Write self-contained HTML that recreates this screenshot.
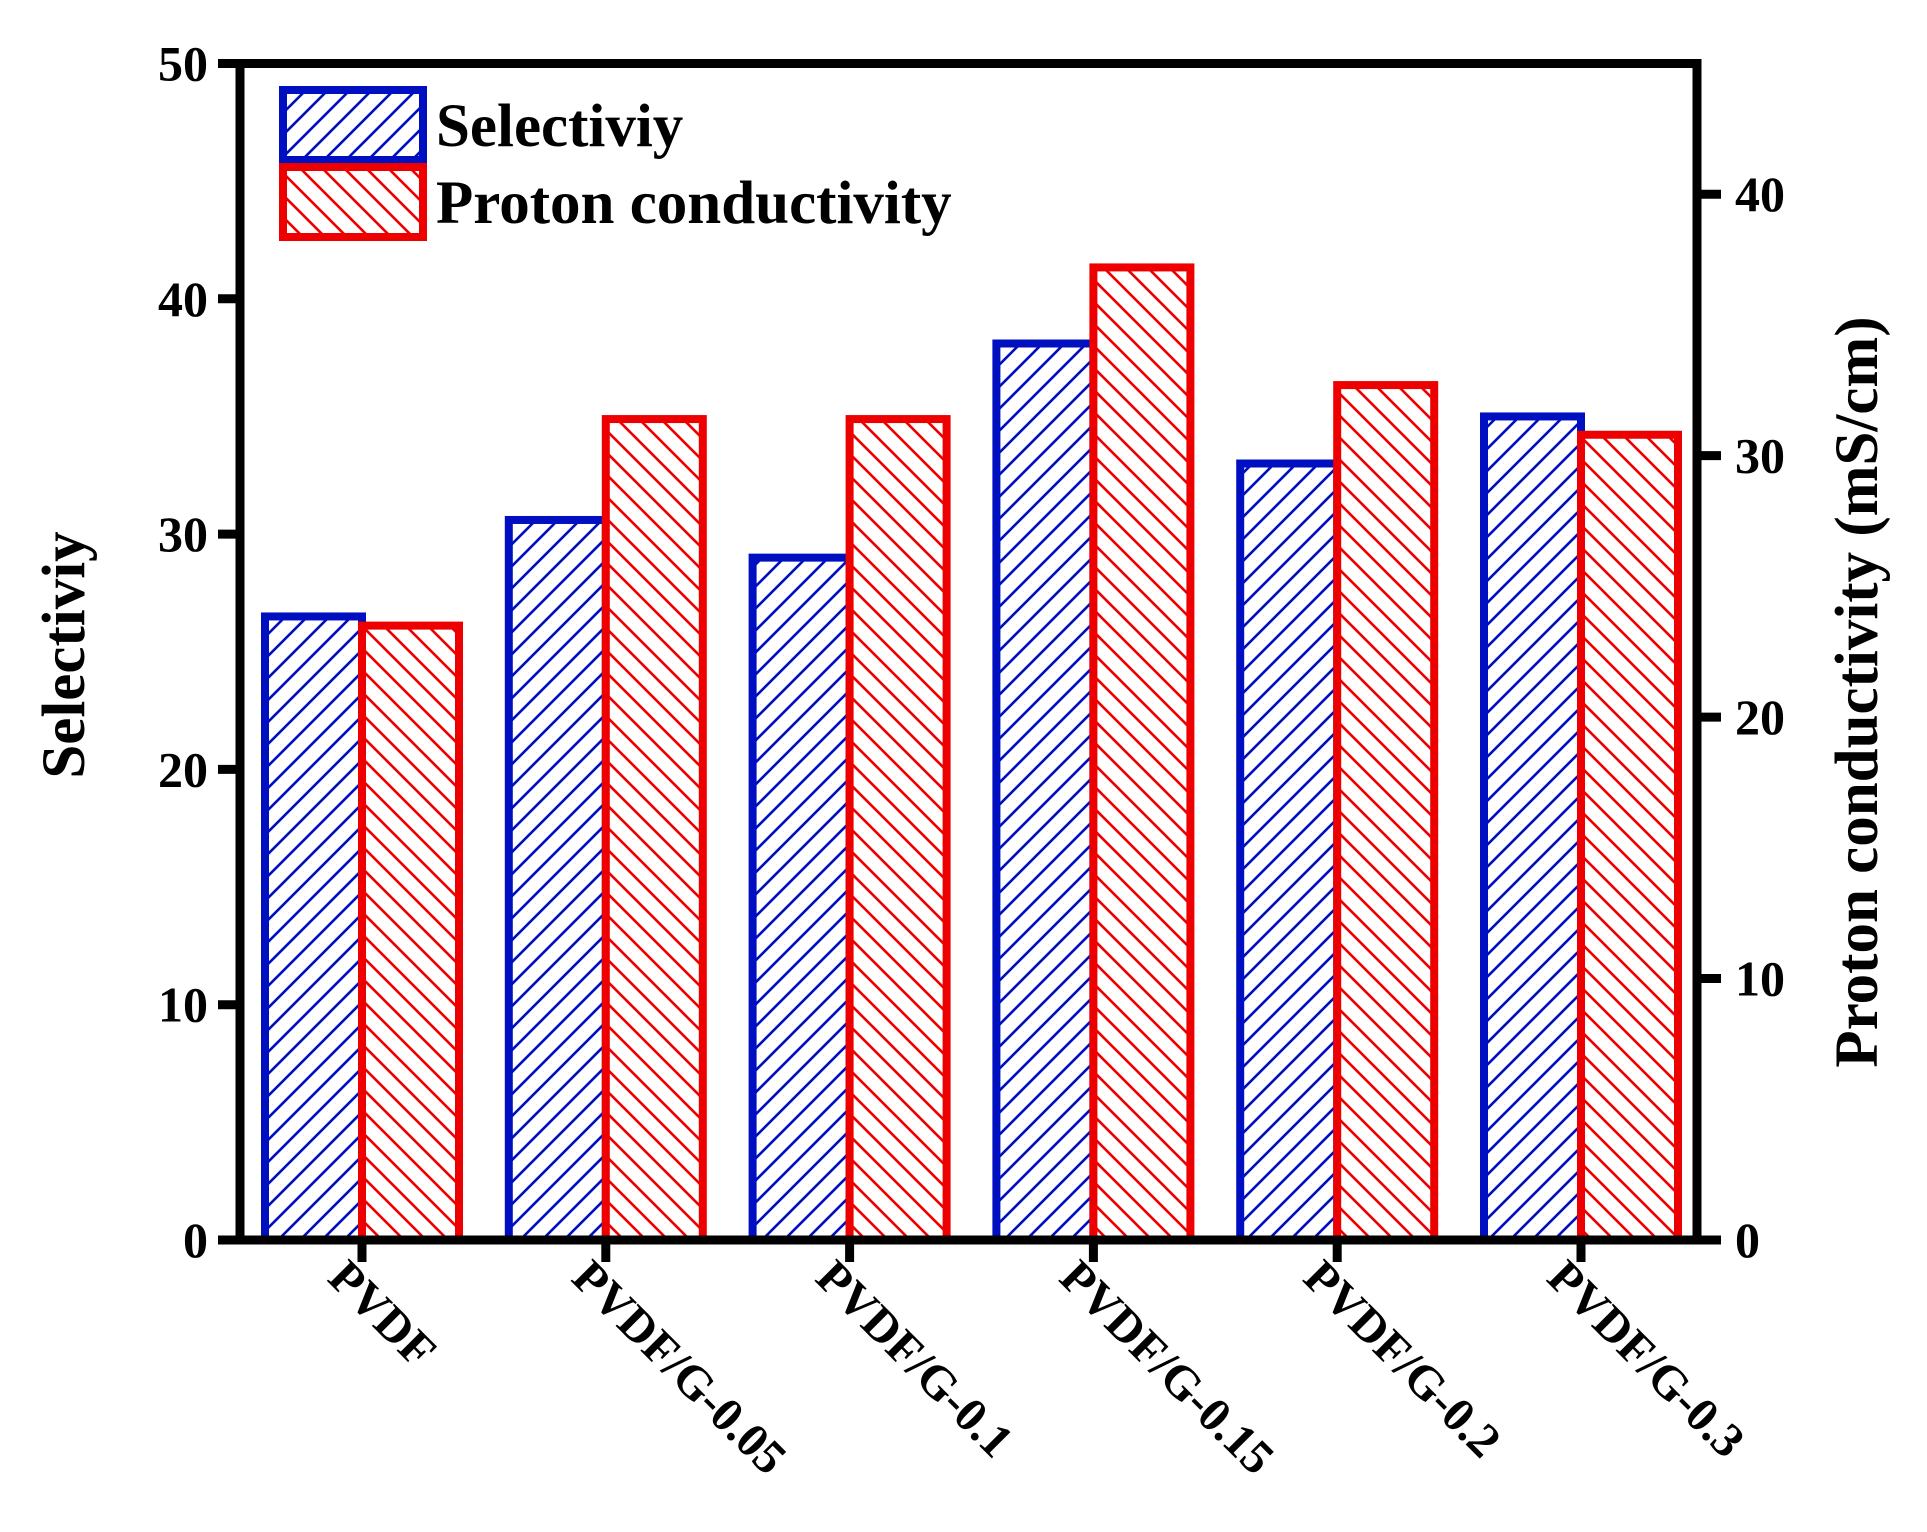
<!DOCTYPE html>
<html><head><meta charset="utf-8"><style>html,body{margin:0;padding:0;background:#fff}svg{display:block}</style></head>
<body>
<svg id="chart" width="1927" height="1532" xmlns="http://www.w3.org/2000/svg" font-family="'Liberation Serif', serif" font-weight="bold">
<defs>
<pattern id="hb" patternUnits="userSpaceOnUse" width="22" height="22"><rect width="22" height="22" fill="#fff"/><path d="M-5.5,5.5 L5.5,-5.5 M0,22 L22,0 M16.5,27.5 L27.5,16.5" stroke="#0010c0" stroke-width="2.6"/></pattern>
<pattern id="hr" patternUnits="userSpaceOnUse" width="22" height="22"><rect width="22" height="22" fill="#fff"/><path d="M-5.5,16.5 L5.5,27.5 M0,0 L22,22 M16.5,-5.5 L27.5,5.5" stroke="#ee0000" stroke-width="2.6"/></pattern>
</defs>
<g id="bars"></g>
<g id="axes"></g>
<g>
<rect x="283" y="90" width="140" height="70" fill="url(#hb)" stroke="#0010c0" stroke-width="8"/>
<text x="436" y="146" font-size="61">Selectiviy</text>
<rect x="283" y="167" width="140" height="70" fill="url(#hr)" stroke="#ee0000" stroke-width="8"/>
<text x="436" y="223" font-size="61">Proton conductivity</text>
</g>
<text transform="translate(84,655) rotate(-90)" text-anchor="middle" font-size="61">Selectiviy</text>
<text transform="translate(1877,692) rotate(-90)" text-anchor="middle" font-size="61">Proton conductivity (mS/cm)</text>
</svg>
<script>
const categories = ["PVDF","PVDF/G-0.05","PVDF/G-0.1","PVDF/G-0.15","PVDF/G-0.2","PVDF/G-0.3"];
const selectivity = [26.5, 30.6, 29.0, 38.1, 33.0, 35.0];
const conductivity = [23.5, 31.4, 31.4, 37.2, 32.7, 30.8];
const leftTicks = [0,10,20,30,40,50];
const rightTicks = [0,10,20,30,40];

const NS="http://www.w3.org/2000/svg";
const X0=240, X1=1697, Y0=1240, Y1=63.5;
const yL = v => Y0 - (Y0-Y1)*v/50;
const yR = v => Y0 - (Y0-Y1)*v/45;
const xC = i => 362 + i*243.8;
const BW = 97;
function mk(tag, attrs, parent){const e=document.createElementNS(NS,tag);for(const k in attrs)e.setAttribute(k,attrs[k]);parent.appendChild(e);return e;}
const bars=document.getElementById('bars'), axes=document.getElementById('axes');
categories.forEach((c,i)=>{
  const b=mk('rect',{x:xC(i)-BW,y:yL(selectivity[i]),width:BW,height:Y0-yL(selectivity[i]),fill:'url(#hb)',stroke:'#0010c0','stroke-width':8},bars);
  
  
  const r=mk('rect',{x:xC(i),y:yR(conductivity[i]),width:BW,height:Y0-yR(conductivity[i]),fill:'url(#hr)',stroke:'#ee0000','stroke-width':8},bars);
  
  
  const t=mk('line',{x1:xC(i),x2:xC(i),y1:Y0,y2:Y0+22,stroke:'#000','stroke-width':9},axes);
  
  
  const l=mk('text',{transform:`translate(${xC(i)-36},${Y0+40}) rotate(45)`,'font-size':48},axes);
  l.textContent=c;
  
  
});
const frame=mk('rect',{x:X0,y:Y1,width:X1-X0,height:Y0-Y1,fill:'none',stroke:'#000','stroke-width':9},axes);


leftTicks.forEach(v=>{
  const t=mk('line',{x1:X0-22,x2:X0,y1:yL(v),y2:yL(v),stroke:'#000','stroke-width':9},axes);
  
  
  const l=mk('text',{x:X0-32,y:yL(v)+17,'text-anchor':'end','font-size':50},axes);
  l.textContent=v;
  
  
});
rightTicks.forEach(v=>{
  const t=mk('line',{x1:X1,x2:X1+24,y1:yR(v),y2:yR(v),stroke:'#000','stroke-width':9},axes);
  
  
  const l=mk('text',{x:X1+38,y:yR(v)+17,'font-size':50},axes);
  l.textContent=v;
  
  
});
</script>
</body></html>
